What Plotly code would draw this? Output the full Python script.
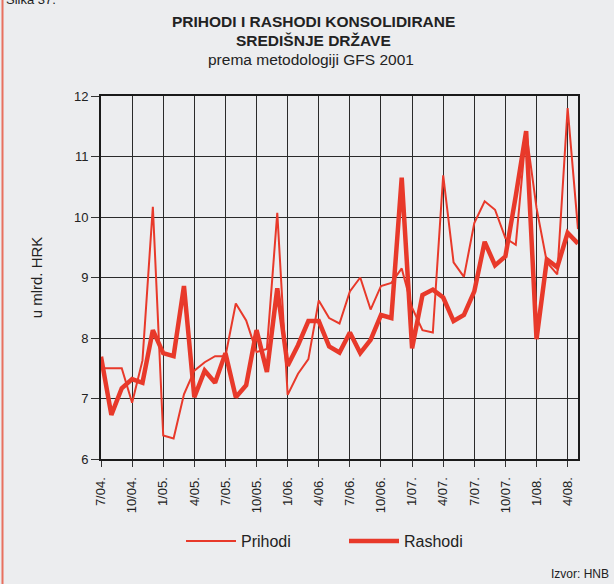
import plotly.graph_objects as go

months = list(range(47))  # 7/04 .. 5/08
tick_vals = list(range(0, 46, 3))
tick_text = ["7/04.", "10/04.", "1/05.", "4/05.", "7/05.", "10/05.", "1/06.", "4/06.",
             "7/06.", "10/06.", "1/07.", "4/07.", "7/07.", "10/07.", "1/08.", "4/08."]

prihodi = [7.5, 7.5, 7.5, 6.93, 7.63, 10.17, 6.39, 6.34, 7.07, 7.46, 7.6, 7.7,
           7.7, 8.57, 8.29, 7.77, 7.82, 10.07, 7.06, 7.41, 7.65, 8.62, 8.33, 8.24,
           8.77, 9.0, 8.47, 8.86, 8.91, 9.15, 8.5, 8.13, 8.09, 10.69, 9.25, 9.01,
           9.9, 10.26, 10.12, 9.65, 9.54, 11.42, 10.15, 9.25, 9.05, 11.8, 9.8]

rashodi = [7.69, 6.73, 7.17, 7.32, 7.26, 8.13, 7.75, 7.7, 8.86, 7.02, 7.46, 7.26,
           7.75, 7.02, 7.22, 8.13, 7.44, 8.82, 7.54, 7.88, 8.28, 8.28, 7.86, 7.76,
           8.09, 7.75, 7.97, 8.38, 8.33, 10.65, 7.83, 8.71, 8.8, 8.67, 8.28, 8.38,
           8.77, 9.59, 9.2, 9.35, 10.35, 11.42, 7.98, 9.3, 9.17, 9.74, 9.56]

RED = "#E8392A"
BG = "#ECEDEF"
W, H = 614, 584
L, R, T, B = 101, 36, 96, 125
pw = W - L - R
ph = H - T - B

def py(pix):
    """pixel row -> paper y"""
    return 1 + (T - pix) / ph

def px(pix):
    return (pix - L) / pw

fig = go.Figure()
fig.add_trace(go.Scatter(x=months, y=prihodi, mode="lines", name="Prihodi",
                         line=dict(color=RED, width=2)))
fig.add_trace(go.Scatter(x=months, y=rashodi, mode="lines", name="Rashodi",
                         line=dict(color=RED, width=4.5)))

fig.update_layout(
    width=W, height=H,
    margin=dict(l=L, r=R, t=T, b=B, autoexpand=False),
    paper_bgcolor=BG, plot_bgcolor=BG,
    font=dict(family="Liberation Sans, Arial", color="#222", size=13),
    showlegend=True,
    legend=dict(orientation="h", x=px(181), xanchor="left",
                y=py(541), yanchor="middle",
                font=dict(size=16), itemwidth=50, entrywidth=98, entrywidthmode="pixels",
                bgcolor="rgba(0,0,0,0)"),
    xaxis=dict(range=[0, 46], tickvals=tick_vals, ticktext=tick_text, tickangle=-90,
               showgrid=True, gridcolor="#2a2a2a", gridwidth=1,
               showline=True, linecolor="#1a1a1a", linewidth=2, mirror=True,
               ticks="outside", ticklen=6, tickcolor="#333", ticklabelstandoff=5,
               tickfont=dict(size=13), zeroline=False),
    yaxis=dict(range=[6, 12], dtick=1, showgrid=True, gridcolor="#2a2a2a", gridwidth=1,
               showline=True, linecolor="#1a1a1a", linewidth=2, mirror=True,
               ticks="outside", ticklen=8, tickcolor="#333",
               tickfont=dict(size=13), zeroline=False,
               title=dict(text="u mlrd. HRK", font=dict(size=15), standoff=28)),
)

fig.add_annotation(text="<b>PRIHODI I RASHODI KONSOLIDIRANE</b>",
                   xref="paper", yref="paper", x=px(313), y=py(22),
                   showarrow=False, font=dict(size=15.5), xanchor="center", yanchor="middle")
fig.add_annotation(text="<b>SREDIŠNJE DRŽAVE</b>",
                   xref="paper", yref="paper", x=px(313), y=py(40),
                   showarrow=False, font=dict(size=15.5), xanchor="center", yanchor="middle")
fig.add_annotation(text="prema metodologiji GFS 2001",
                   xref="paper", yref="paper", x=px(311), y=py(60),
                   showarrow=False, font=dict(size=15.5), xanchor="center", yanchor="middle")
fig.add_annotation(text="Slika 37.", xref="paper", yref="paper",
                   x=px(4), y=py(-1),
                   showarrow=False, font=dict(size=13), xanchor="left", yanchor="middle")
fig.add_annotation(text="Izvor: HNB", xref="paper", yref="paper",
                   x=px(611), y=py(574),
                   showarrow=False, font=dict(size=12), xanchor="right", yanchor="middle")
fig.add_shape(type="line", xref="paper", yref="paper",
              x0=px(2.5), x1=px(2.5), y0=py(H), y1=py(0),
              line=dict(color="#E8705F", width=2))

fig.write_html("out.html", config={"displayModeBar": False},
               post_script="document.body.style.margin='0px';document.body.style.overflow='hidden';")
